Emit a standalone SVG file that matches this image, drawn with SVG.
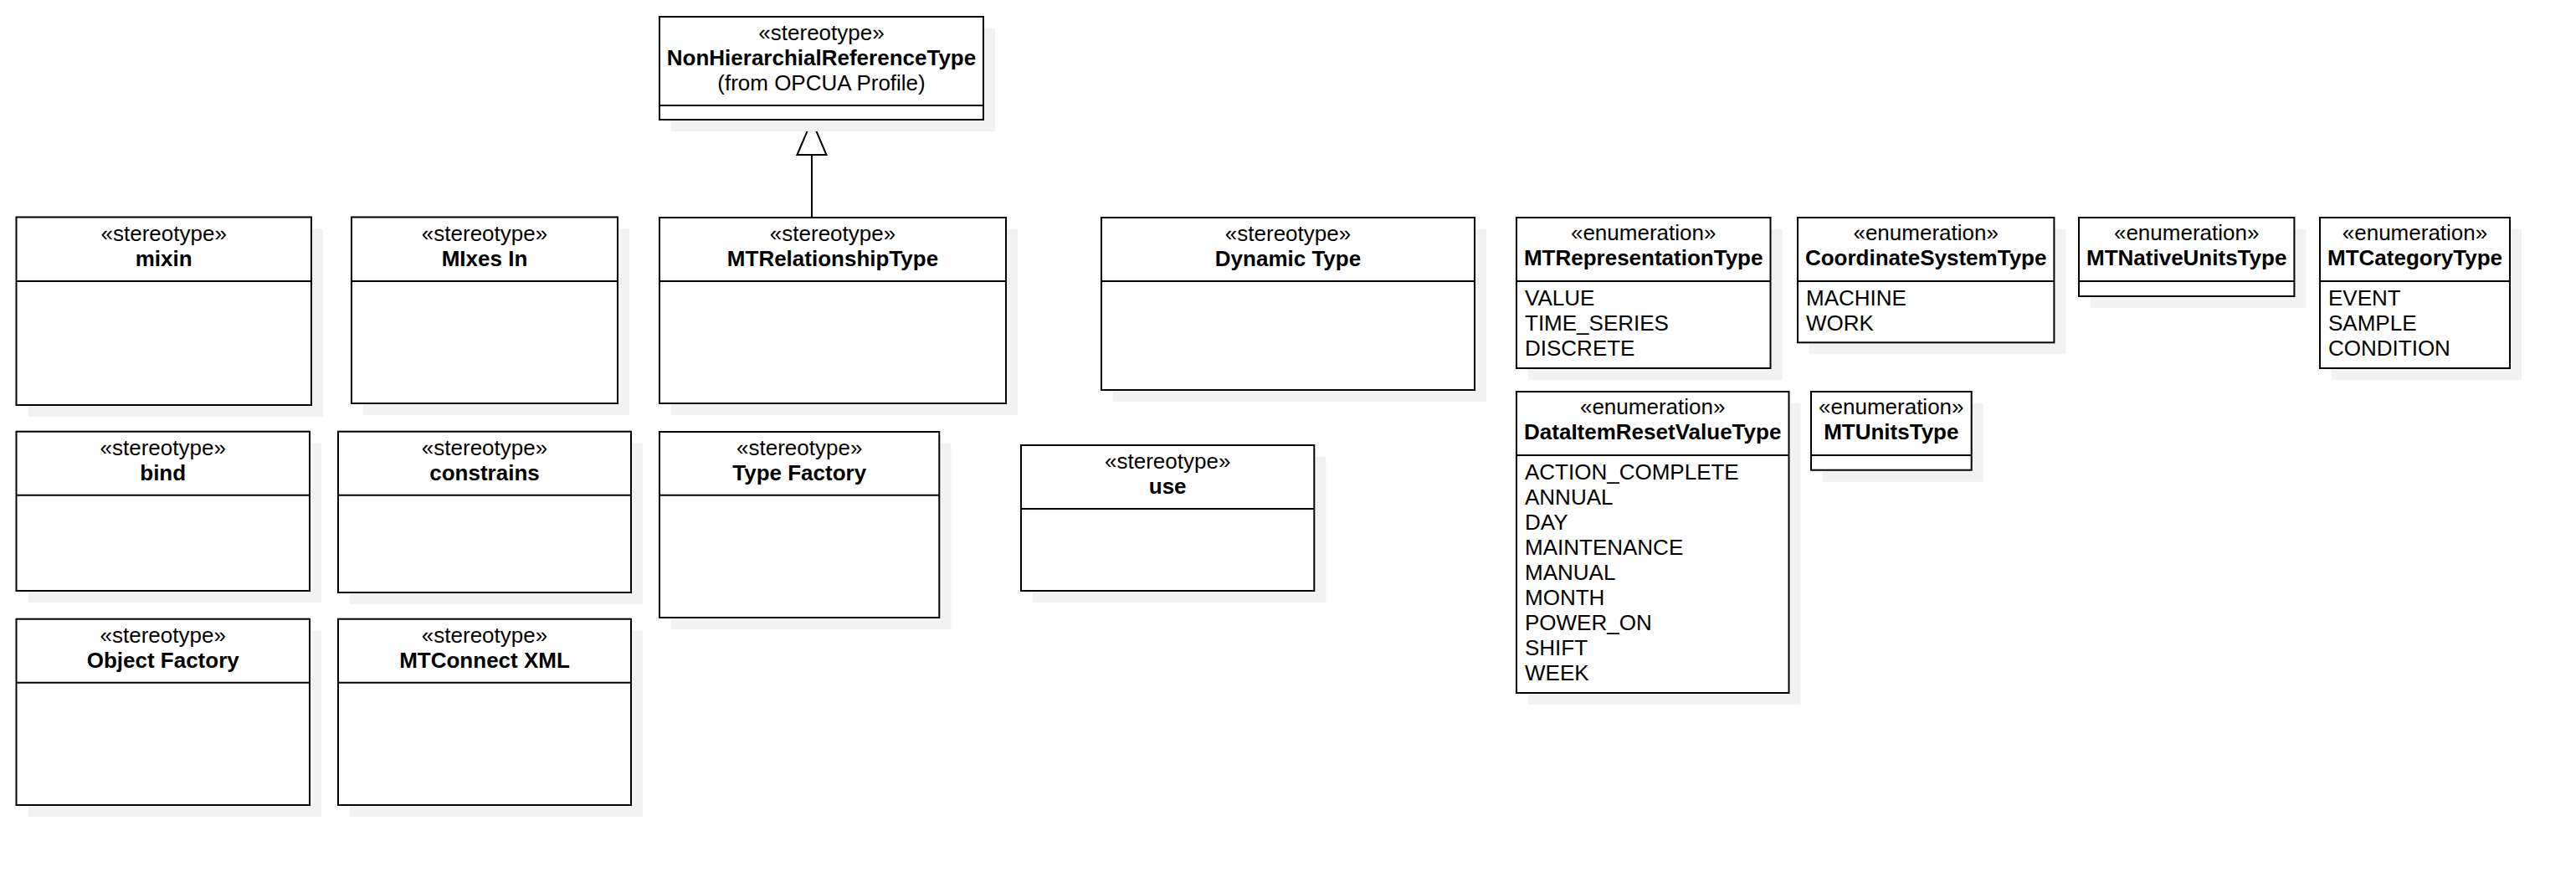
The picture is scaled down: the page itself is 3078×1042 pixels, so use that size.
<svg xmlns="http://www.w3.org/2000/svg" width="3078" height="1042" viewBox="0 0 3078 1042">
  <style>
    .shadow { fill: #f2f2f2; stroke: none; }
    .box { fill: #ffffff; stroke: #000000; stroke-width: 2; }
    .sep { stroke: #000000; stroke-width: 2; fill: none; }
    text { font-family: "Liberation Sans", Arial, Helvetica, sans-serif; font-size: 26px; fill: #000000; }
    .hd { text-anchor: middle; }
    .nm { font-weight: bold; }
    .edge { stroke: #000000; stroke-width: 2; fill: none; }
  </style>
  <defs>
    <!-- hollow triangle head for generalization -->
    <marker id="gen" markerUnits="userSpaceOnUse" viewBox="-2 -2 45 39" markerWidth="45" markerHeight="39" refX="41" refY="17.5" orient="auto" overflow="visible">
      <path d="M0,0 L41,17.5 L0,35 Z" fill="#ffffff" stroke="#000000" stroke-width="2"/>
    </marker>
  </defs>

  <rect width="3078" height="1042" fill="#ffffff"/>

  <!-- connectors -->
  <g id="connectors">
    <path class="edge" d="M970,260 L970,144" marker-end="url(#gen)"/>
  </g>

  <!-- stereotypes -->
  <g id="node-nonhierarchial">
    <rect class="shadow" x="802" y="34" width="387" height="123"/>
    <rect class="box" x="788" y="20" width="387" height="123"/>
    <line class="sep" x1="788" y1="126" x2="1175" y2="126"/>
    <text class="hd" x="981.5" y="48">«stereotype»</text>
    <text class="hd nm" x="981.5" y="78">NonHierarchialReferenceType</text>
    <text class="hd" x="981.5" y="108">(from OPCUA Profile)</text>
  </g>

  <g id="node-mixin">
    <rect class="shadow" x="33.5" y="273.5" width="352.5" height="224.5"/>
    <rect class="box" x="19.5" y="259.5" width="352.5" height="224.5"/>
    <line class="sep" x1="19.5" y1="336" x2="372" y2="336"/>
    <text class="hd" x="195.7" y="288">«stereotype»</text>
    <text class="hd nm" x="195.7" y="318">mixin</text>
  </g>

  <g id="node-mixes-in">
    <rect class="shadow" x="434" y="273.5" width="318" height="222.5"/>
    <rect class="box" x="420" y="259.5" width="318" height="222.5"/>
    <line class="sep" x1="420" y1="336" x2="738" y2="336"/>
    <text class="hd" x="579" y="288">«stereotype»</text>
    <text class="hd nm" x="579" y="318">MIxes In</text>
  </g>

  <g id="node-mtrelationshiptype">
    <rect class="shadow" x="802" y="274" width="414" height="222"/>
    <rect class="box" x="788" y="260" width="414" height="222"/>
    <line class="sep" x1="788" y1="336" x2="1202" y2="336"/>
    <text class="hd" x="995" y="288">«stereotype»</text>
    <text class="hd nm" x="995" y="318">MTRelationshipType</text>
  </g>

  <g id="node-dynamic-type">
    <rect class="shadow" x="1330" y="274" width="446" height="206"/>
    <rect class="box" x="1316" y="260" width="446" height="206"/>
    <line class="sep" x1="1316" y1="336" x2="1762" y2="336"/>
    <text class="hd" x="1539" y="288">«stereotype»</text>
    <text class="hd nm" x="1539" y="318">Dynamic Type</text>
  </g>

  <g id="node-bind">
    <rect class="shadow" x="33.5" y="529.7" width="350.5" height="190.3"/>
    <rect class="box" x="19.5" y="515.7" width="350.5" height="190.3"/>
    <line class="sep" x1="19.5" y1="591.7" x2="370" y2="591.7"/>
    <text class="hd" x="194.7" y="544">«stereotype»</text>
    <text class="hd nm" x="194.7" y="574">bind</text>
  </g>

  <g id="node-constrains">
    <rect class="shadow" x="418" y="529.7" width="350" height="192.3"/>
    <rect class="box" x="404" y="515.7" width="350" height="192.3"/>
    <line class="sep" x1="404" y1="591.7" x2="754" y2="591.7"/>
    <text class="hd" x="579" y="544">«stereotype»</text>
    <text class="hd nm" x="579" y="574">constrains</text>
  </g>

  <g id="node-type-factory">
    <rect class="shadow" x="802" y="530" width="334.3" height="222"/>
    <rect class="box" x="788" y="516" width="334.3" height="222"/>
    <line class="sep" x1="788" y1="591.7" x2="1122.3" y2="591.7"/>
    <text class="hd" x="955.2" y="544">«stereotype»</text>
    <text class="hd nm" x="955.2" y="574">Type Factory</text>
  </g>

  <g id="node-use">
    <rect class="shadow" x="1234" y="546" width="350.3" height="174"/>
    <rect class="box" x="1220" y="532" width="350.3" height="174"/>
    <line class="sep" x1="1220" y1="608" x2="1570.3" y2="608"/>
    <text class="hd" x="1395.2" y="560">«stereotype»</text>
    <text class="hd nm" x="1395.2" y="590">use</text>
  </g>

  <g id="node-object-factory">
    <rect class="shadow" x="33.5" y="753.7" width="350.5" height="222.3"/>
    <rect class="box" x="19.5" y="739.7" width="350.5" height="222.3"/>
    <line class="sep" x1="19.5" y1="815.7" x2="370" y2="815.7"/>
    <text class="hd" x="194.7" y="768">«stereotype»</text>
    <text class="hd nm" x="194.7" y="798">Object Factory</text>
  </g>

  <g id="node-mtconnect-xml">
    <rect class="shadow" x="418" y="753.7" width="350" height="222.3"/>
    <rect class="box" x="404" y="739.7" width="350" height="222.3"/>
    <line class="sep" x1="404" y1="815.7" x2="754" y2="815.7"/>
    <text class="hd" x="579" y="768">«stereotype»</text>
    <text class="hd nm" x="579" y="798">MTConnect XML</text>
  </g>

  <!-- enumerations -->
  <g id="node-mtrepresentationtype">
    <rect class="shadow" x="1826" y="274" width="303.5" height="180"/>
    <rect class="box" x="1812" y="260" width="303.5" height="180"/>
    <line class="sep" x1="1812" y1="336" x2="2115.5" y2="336"/>
    <text class="hd" x="1963.7" y="287">«enumeration»</text>
    <text class="hd nm" x="1963.7" y="317">MTRepresentationType</text>
    <text x="1822" y="365">VALUE</text>
    <text x="1822" y="395">TIME_SERIES</text>
    <text x="1822" y="425">DISCRETE</text>
  </g>

  <g id="node-coordinatesystemtype">
    <rect class="shadow" x="2162" y="274" width="306.4" height="149.3"/>
    <rect class="box" x="2148" y="260" width="306.4" height="149.3"/>
    <line class="sep" x1="2148" y1="336" x2="2454.4" y2="336"/>
    <text class="hd" x="2301.2" y="287">«enumeration»</text>
    <text class="hd nm" x="2301.2" y="317">CoordinateSystemType</text>
    <text x="2158" y="365">MACHINE</text>
    <text x="2158" y="395">WORK</text>
  </g>

  <g id="node-mtnativeunitstype">
    <rect class="shadow" x="2498" y="274" width="257.4" height="94"/>
    <rect class="box" x="2484" y="260" width="257.4" height="94"/>
    <line class="sep" x1="2484" y1="336" x2="2741.4" y2="336"/>
    <text class="hd" x="2612.7" y="287">«enumeration»</text>
    <text class="hd nm" x="2612.7" y="317">MTNativeUnitsType</text>
  </g>

  <g id="node-mtcategorytype">
    <rect class="shadow" x="2786" y="274" width="227" height="180"/>
    <rect class="box" x="2772" y="260" width="227" height="180"/>
    <line class="sep" x1="2772" y1="336" x2="2999" y2="336"/>
    <text class="hd" x="2885.5" y="287">«enumeration»</text>
    <text class="hd nm" x="2885.5" y="317">MTCategoryType</text>
    <text x="2782" y="365">EVENT</text>
    <text x="2782" y="395">SAMPLE</text>
    <text x="2782" y="425">CONDITION</text>
  </g>

  <g id="node-dataitemresetvaluetype">
    <rect class="shadow" x="1826" y="482" width="325.5" height="360"/>
    <rect class="box" x="1812" y="468" width="325.5" height="360"/>
    <line class="sep" x1="1812" y1="544" x2="2137.5" y2="544"/>
    <text class="hd" x="1974.7" y="495">«enumeration»</text>
    <text class="hd nm" x="1974.7" y="525">DataItemResetValueType</text>
    <text x="1822" y="573">ACTION_COMPLETE</text>
    <text x="1822" y="603">ANNUAL</text>
    <text x="1822" y="633">DAY</text>
    <text x="1822" y="663">MAINTENANCE</text>
    <text x="1822" y="693">MANUAL</text>
    <text x="1822" y="723">MONTH</text>
    <text x="1822" y="753">POWER_ON</text>
    <text x="1822" y="783">SHIFT</text>
    <text x="1822" y="813">WEEK</text>
  </g>

  <g id="node-mtunitstype">
    <rect class="shadow" x="2178" y="482" width="191.7" height="93.7"/>
    <rect class="box" x="2164" y="468" width="191.7" height="93.7"/>
    <line class="sep" x1="2164" y1="544" x2="2355.7" y2="544"/>
    <text class="hd" x="2259.8" y="495">«enumeration»</text>
    <text class="hd nm" x="2259.8" y="525">MTUnitsType</text>
  </g>
</svg>
